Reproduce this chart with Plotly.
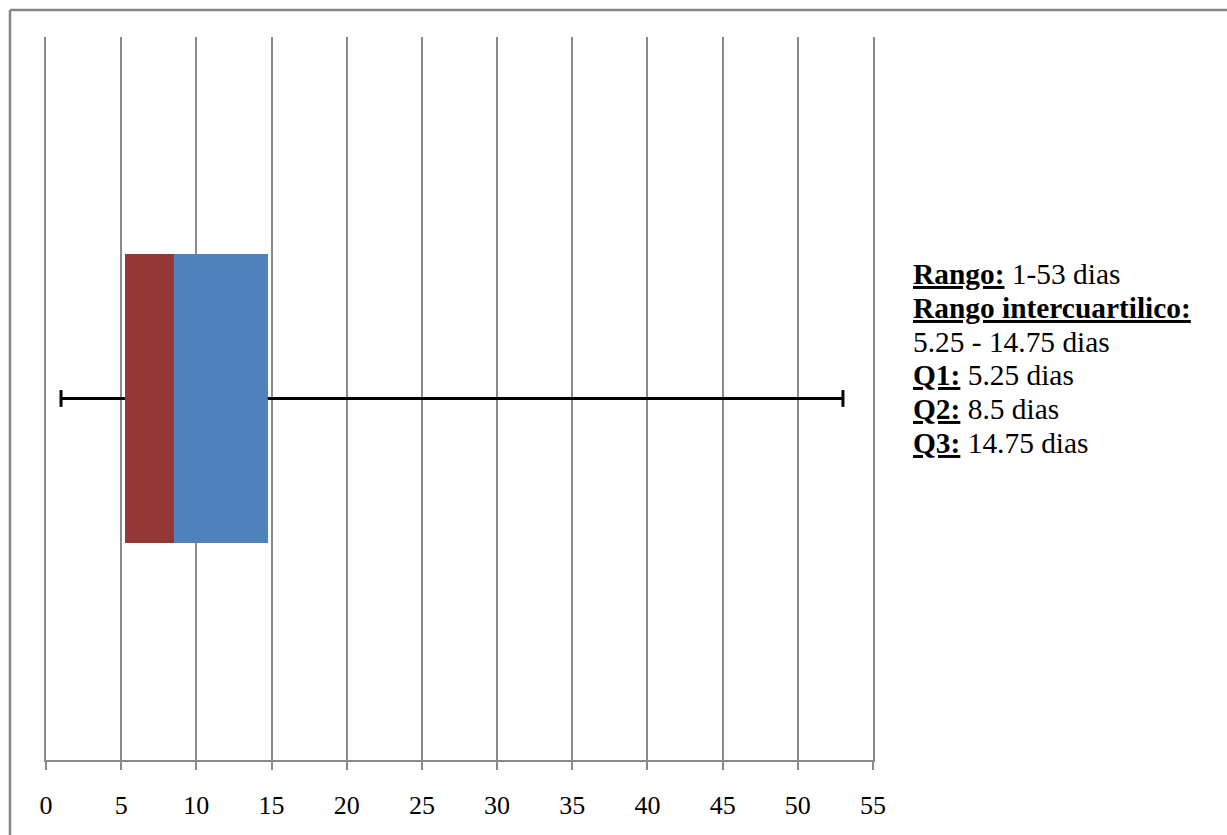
import plotly.graph_objects as go

# Resumen de cinco números (días)
minimo = 1
q1 = 5.25
q2 = 8.5
q3 = 14.75
maximo = 53

x_ticks = [0, 5, 10, 15, 20, 25, 30, 35, 40, 45, 50, 55]

RED = "#953735"
BLUE = "#4F81BD"
GRID = "#8A8A8A"
FONT = '"Liberation Serif", "Times New Roman", Times, serif'

W, H = 1227, 835
L, R, T, B = 46, 354, 37, 75

fig = go.Figure()

# Caja: Q1 -> mediana (rojo), mediana -> Q3 (azul)
fig.add_trace(go.Bar(
    y=[0], x=[q2 - q1], base=[q1], orientation="h", width=1,
    marker=dict(color=RED, line=dict(width=0)), showlegend=False,
))
fig.add_trace(go.Bar(
    y=[0], x=[q3 - q2], base=[q2], orientation="h", width=1,
    marker=dict(color=BLUE, line=dict(width=0)), showlegend=False,
))

# Bigotes
fig.add_trace(go.Scatter(
    x=[minimo, q1, None, q3, maximo], y=[0, 0, None, 0, 0],
    mode="lines", line=dict(color="black", width=3), showlegend=False,
))
fig.add_trace(go.Scatter(
    x=[minimo, maximo], y=[0, 0], mode="markers",
    marker=dict(symbol="line-ns", size=12, line=dict(color="black", width=3)),
    showlegend=False,
))

# Texto descriptivo a la derecha
def fmt(v):
    return f"{v:g}"

lines = [
    f"<b><u>Rango:</u></b> {fmt(minimo)}-{fmt(maximo)} dias",
    "<b><u>Rango intercuartilico:</u></b>",
    f"{fmt(q1)} - {fmt(q3)} dias",
    f"<b><u>Q1:</u></b> {fmt(q1)} dias",
    f"<b><u>Q2:</u></b> {fmt(q2)} dias",
    f"<b><u>Q3:</u></b> {fmt(q3)} dias",
]
plot_h = H - T - B
plot_w = W - L - R
text_x = (911 - L) / plot_w
first_y, step = 274, 33.8
for i, txt in enumerate(lines):
    py = first_y + i * step
    fig.add_annotation(
        xref="paper", yref="paper", x=text_x, y=(H - B - py) / plot_h,
        xanchor="left", yanchor="middle", text=txt, showarrow=False,
        font=dict(family=FONT, size=29.4, color="black"), align="left",
    )

# Marco exterior (lados superior e izquierdo)
fx0 = (10 - L) / plot_w
fy1 = 1 + (T - 10) / plot_h
fig.add_shape(type="line", xref="paper", yref="paper", x0=fx0, x1=fx0,
              y0=-1, y1=fy1, line=dict(color="#878787", width=2.5))
fig.add_shape(type="line", xref="paper", yref="paper", x0=fx0, x1=2,
              y0=fy1, y1=fy1, line=dict(color="#878787", width=2.5))

fig.update_layout(
    width=W, height=H,
    margin=dict(l=L, r=R, t=T, b=B, pad=0),
    paper_bgcolor="white", plot_bgcolor="white",
    barmode="overlay", bargap=0,
    font=dict(family=FONT, color="black"),
    showlegend=False,
)
fig.update_xaxes(
    range=[0, 55], tickvals=x_ticks, ticktext=[str(v) for v in x_ticks],
    showgrid=True, gridcolor=GRID, gridwidth=2,
    showline=True, linecolor=GRID, linewidth=2,
    ticks="outside", ticklen=8, tickwidth=2, tickcolor=GRID,
    tickfont=dict(family=FONT, size=26, color="black"),
    ticklabelstandoff=13, zeroline=False,
)
# Líneas verticales en 0 y 55 (bordes del área de trazado)
fig.update_yaxes(
    range=[-1.25, 1.25], showticklabels=False, showgrid=False,
    zeroline=False, showline=True, mirror=True, linecolor=GRID, linewidth=2,
)

fig.write_html("out.html", config={"displayModeBar": False})
